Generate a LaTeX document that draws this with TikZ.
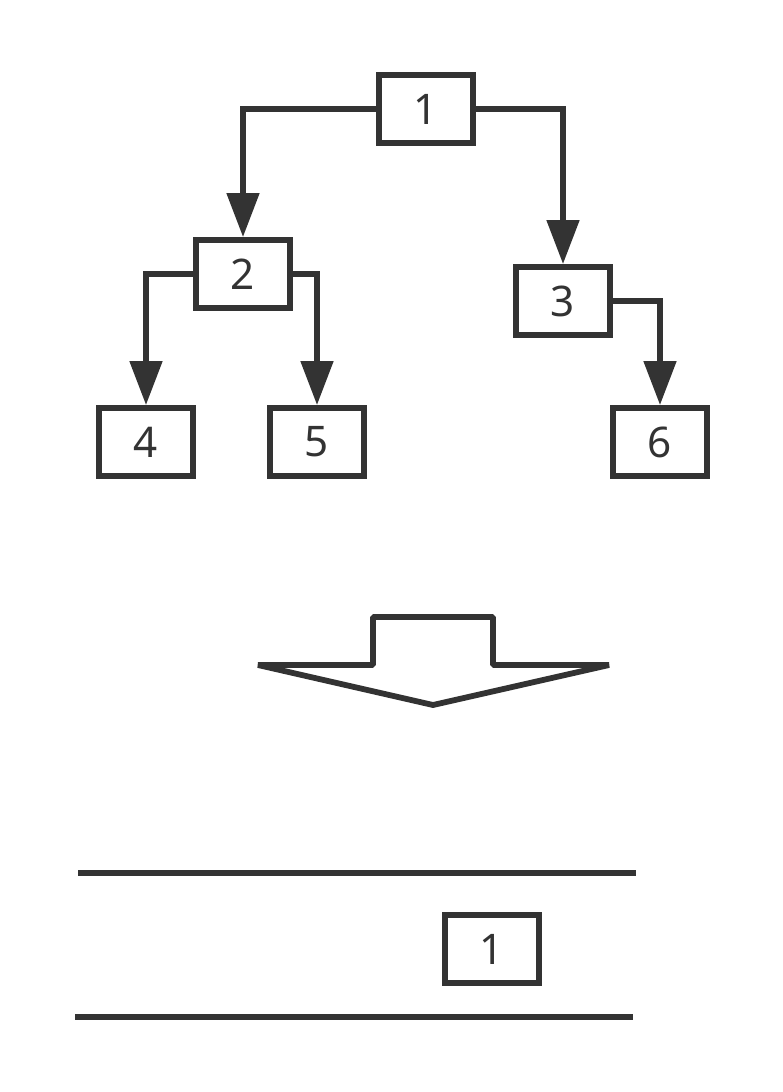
\documentclass[tikz,border=0pt]{standalone}
\usepackage{fontspec}
\setmainfont{Noto Sans}
\usetikzlibrary{arrows.meta}
\definecolor{ink}{HTML}{333333}

\begin{document}
\begin{tikzpicture}[x=0.02cm,y=-0.02cm,line width=3.3pt,draw=ink,
  box/.style={draw=ink,line width=3.3pt,minimum width=1.88cm,minimum height=1.36cm,
    inner sep=0pt,text=ink,font=\fontsize{24}{29}\selectfont},
  edge/.style={ink,-{Triangle[width=18pt,length=25pt]}}]
 \useasboundingbox (0,0) rectangle (783,1092);
 % tree
 \node[box] (n1) at (426,109) {1};
 \node[box] (n2) at (243,274) {2};
 \node[box] (n3) at (563,301) {3};
 \node[box] (n4) at (146,442) {4};
 \node[box] (n5) at (317,442) {5};
 \node[box] (n6) at (660,442) {6};
 \draw[edge] (n1.west) -| (n2.north);
 \draw[edge] (n1.east) -| (n3.north);
 \draw[edge] (n2.west) -| (n4.north);
 \draw[edge] (n2.east) -| (n5.north);
 \draw[edge] (n3.east) -| (n6.north);
 % big arrow
 \draw[ink,line join=bevel] (258,665)--(373,665)--(373,617)--(493,617)--(493,665)--(609,665)--(433,705)--cycle;
 % stack
 \draw[ink] (78,873)--(636,873);
 \draw[ink] (75,1017)--(633,1017);
 \node[box] (s1) at (492,949) {1};
\end{tikzpicture}
\end{document}
